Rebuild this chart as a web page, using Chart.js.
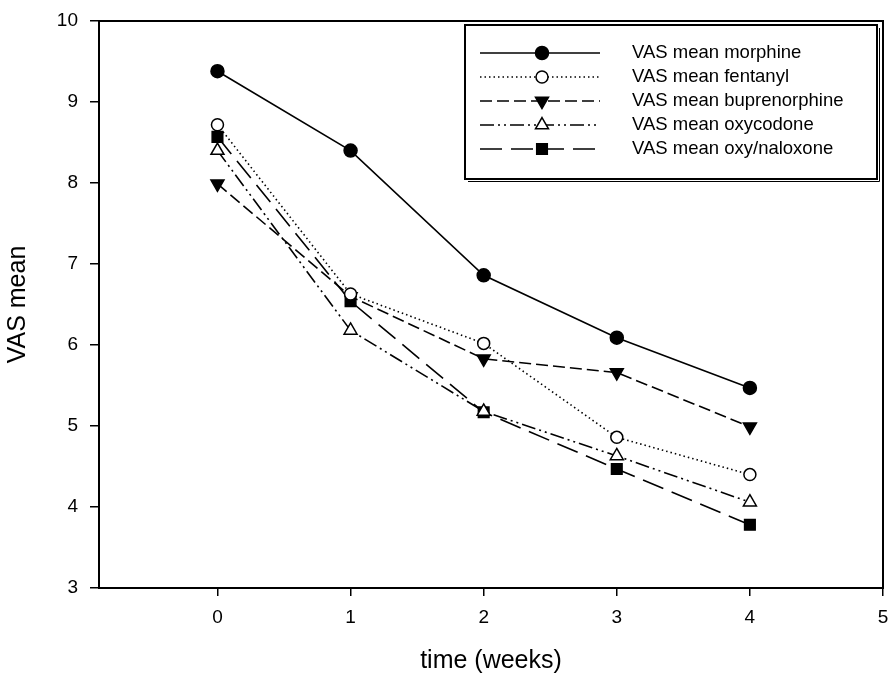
<!DOCTYPE html>
<html>
<head>
<meta charset="utf-8">
<script src="https://cdn.jsdelivr.net/npm/chart.js@4.4.1/dist/chart.umd.min.js"></script>
<style>
  html, body { margin: 0; padding: 0; background: #fff; }
  #wrap { width: 888px; height: 676px; }
</style>
</head>
<body>
<div id="wrap"><canvas id="grafico" width="888" height="676"></canvas></div>
<script>
// semanas
const weeks = [0, 1, 2, 3, 4];
const xTicks = [0, 1, 2, 3, 4, 5];
const yTicks = [3, 4, 5, 6, 7, 8, 9, 10];

const seriesNames = [
  'VAS mean morphine',
  'VAS mean fentanyl',
  'VAS mean buprenorphine',
  'VAS mean oxycodone',
  'VAS mean oxy/naloxone'
];

const morphine = [9.38, 8.4, 6.86, 6.09, 5.47];
const fentanyl = [8.72, 6.63, 6.02, 4.86, 4.4];
const buprenorphine = [7.99, 6.6, 5.83, 5.66, 4.99];
const oxycodone = [8.4, 6.18, 5.18, 4.63, 4.06];
const oxyNaloxone = [8.57, 6.54, 5.17, 4.47, 3.78];

const FONTE = '"Liberation Sans", Arial, sans-serif';

function pts(vals) {
  return vals.map((v, i) => ({ x: weeks[i], y: v }));
}

const estilos = [
  { dash: [], style: 'circle', fill: '#000', radius: 6.5, rot: 0 },
  { dash: [1.5, 3], style: 'circle', fill: '#fff', radius: 6, rot: 0 },
  { dash: [12, 5], style: 'triangle', fill: '#000', radius: 7.5, rot: 180 },
  { dash: [14, 4, 2, 4, 2, 4], style: 'triangle', fill: '#fff', radius: 7.5, rot: 0 },
  { dash: [22, 9], style: 'rect', fill: '#000', radius: 7.5, rot: 0 }
];

const valores = [morphine, fentanyl, buprenorphine, oxycodone, oxyNaloxone];

const datasets = valores.map((vals, i) => ({
  label: seriesNames[i],
  data: pts(vals),
  borderColor: '#000',
  borderWidth: 1.6,
  borderDash: estilos[i].dash,
  pointStyle: estilos[i].style,
  pointRadius: estilos[i].radius,
  pointRotation: estilos[i].rot,
  pointBackgroundColor: estilos[i].fill,
  pointBorderColor: '#000',
  pointBorderWidth: 1.5,
  tension: 0,
  fill: false
}));

// empurra a borda direita da área do gráfico até 883px
const ajusteDireita = {
  id: 'ajusteDireita',
  afterLayout(chart) {
    const xs = chart.scales.x;
    const right = 883;
    xs.right = right;
    xs.width = right - xs.left;
    xs.configure();
    chart.chartArea.right = right;
    chart.chartArea.width = right - chart.chartArea.left;
  }
};

// moldura + legenda desenhada à mão
const molduraPlugin = {
  id: 'moldura',
  afterDraw(chart) {
    const ctx = chart.ctx;
    const a = chart.chartArea;
    ctx.save();
    ctx.strokeStyle = '#000';
    ctx.lineWidth = 2;
    ctx.strokeRect(a.left, a.top, a.right - a.left, a.bottom - a.top);

    // caixa da legenda
    const bx = 465, by = 25, bw = 412, bh = 154;
    ctx.fillStyle = '#fff';
    ctx.fillRect(bx, by, bw, bh);
    ctx.lineWidth = 2;
    ctx.strokeRect(bx, by, bw, bh);
    ctx.lineWidth = 1;
    ctx.beginPath();
    ctx.moveTo(bx + 3, by + bh + 2.5);
    ctx.lineTo(bx + bw + 2.5, by + bh + 2.5);
    ctx.lineTo(bx + bw + 2.5, by + 3);
    ctx.stroke();

    ctx.font = '18.5px ' + FONTE;
    ctx.textBaseline = 'middle';
    chart.data.datasets.forEach((ds, i) => {
      const y = 53 + i * 24;
      ctx.strokeStyle = '#000';
      ctx.lineWidth = 1.6;
      ctx.setLineDash(ds.borderDash);
      ctx.beginPath();
      ctx.moveTo(480, y);
      ctx.lineTo(600, y);
      ctx.stroke();
      ctx.setLineDash([]);
      ctx.fillStyle = ds.pointBackgroundColor;
      ctx.strokeStyle = '#000';
      ctx.lineWidth = 1.5;
      Chart.helpers.drawPoint(ctx, {
        pointStyle: ds.pointStyle,
        radius: ds.pointRadius,
        rotation: ds.pointRotation,
        borderWidth: 1.5
      }, 542, y);
      ctx.fillStyle = '#000';
      ctx.textAlign = 'left';
      ctx.fillText(ds.label, 632, y);
    });
    ctx.restore();
  }
};

new Chart(document.getElementById('grafico').getContext('2d'), {
  type: 'line',
  data: { datasets: datasets },
  plugins: [ajusteDireita, molduraPlugin],
  options: {
    responsive: false,
    animation: false,
    layout: { padding: { top: 21, right: 1, left: 0, bottom: 0 } },
    plugins: {
      legend: { display: false },
      tooltip: { enabled: false }
    },
    scales: {
      x: {
        type: 'linear',
        min: -0.89,
        max: 5,
        afterBuildTicks: s => { s.ticks = xTicks.map(v => ({ value: v })); },
        afterFit: s => { s.height = 88; },
        grid: { drawOnChartArea: false, tickLength: 8, color: '#000', lineWidth: 1.5 },
        border: { display: true, color: '#000', width: 2 },
        ticks: {
          color: '#000',
          padding: 10,
          font: { family: FONTE, size: 19 }
        },
        title: {
          display: true,
          text: 'time (weeks)',
          color: '#000',
          padding: { top: 0, bottom: 0 },
          font: { family: FONTE, size: 25 }
        }
      },
      y: {
        type: 'linear',
        min: 3,
        max: 10,
        afterBuildTicks: s => { s.ticks = yTicks.map(v => ({ value: v })); },
        afterFit: s => { s.width = 99; s.paddingTop = 0; s.paddingBottom = 0; },
        grid: { drawOnChartArea: false, tickLength: 9, color: '#000', lineWidth: 1.5 },
        border: { display: true, color: '#000', width: 2 },
        ticks: {
          color: '#000',
          padding: 12,
          font: { family: FONTE, size: 19 }
        },
        title: {
          display: true,
          text: 'VAS mean',
          color: '#000',
          padding: { bottom: 0, top: 3 },
          font: { family: FONTE, size: 25 }
        }
      }
    }
  }
});
</script>
</body>
</html>
